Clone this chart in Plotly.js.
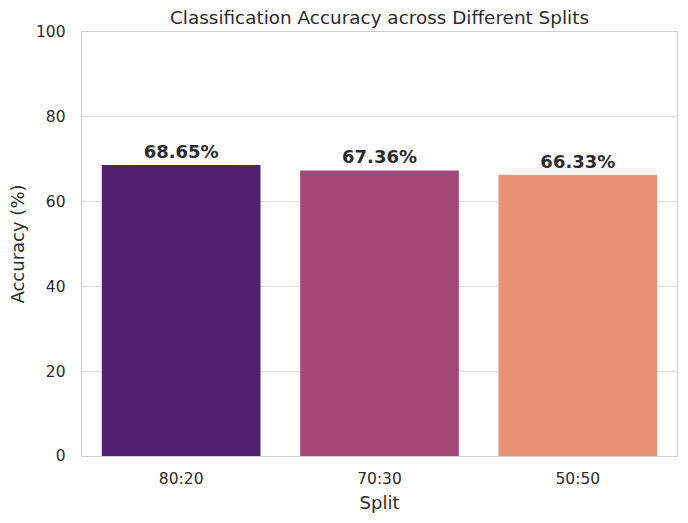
<!DOCTYPE html>
<html>
<head>
<meta charset="utf-8">
<script src="https://cdn.plot.ly/plotly-3.0.1.min.js"></script>
<style>html,body{margin:0;padding:0;background:#fff}#chart{width:688px;height:523px}</style>
</head>
<body>
<div id="chart"></div>
<script>
const splits = ["80:20", "70:30", "50:50"];
const accuracy = [68.65, 67.36, 66.33];
const barColors = ["#501f6d", "#a6477a", "#e99274"];
const yTicks = [0, 20, 40, 60, 80, 100];

const font = "DejaVu Sans, sans-serif";
const textColor = "#2b2b2b";

const trace = {
  type: "bar",
  x: splits,
  y: accuracy,
  marker: {color: barColors, line: {width: 0}},
  text: accuracy.map(v => v.toFixed(2) + "%"),
  textposition: "outside",
  textfont: {family: font, size: 18, color: textColor, weight: "bold"},
  cliponaxis: false,
  hoverinfo: "skip"
};

const layout = {
  width: 688, height: 523,
  margin: {l: 82, r: 11, t: 32, b: 67},
  paper_bgcolor: "#fff", plot_bgcolor: "#fff",
  bargap: 0.2,
  showlegend: false,
  title: {text: "Classification Accuracy across Different Splits", font: {family: font, size: 18.4, color: textColor}, x: 0.5516, xanchor: "center", y: 0.967, yanchor: "middle"},
  xaxis: {
    title: {text: "Split", font: {family: font, size: 18, color: textColor}, standoff: 9},
    tickfont: {family: font, size: 15.5, color: textColor},
    showgrid: false, showline: true, linecolor: "#cccccc", linewidth: 1.3, mirror: true,
    ticks: "", ticklen: 0, range: [-0.5, 2.5], ticklabelstandoff: 8
  },
  yaxis: {
    title: {text: "Accuracy (%)", font: {family: font, size: 18, color: textColor}, standoff: 6},
    tickfont: {family: font, size: 15.5, color: textColor},
    range: [0, 100], tickvals: yTicks, ticktext: yTicks.map(String),
    showgrid: true, gridcolor: "#dadada", gridwidth: 1.2,
    showline: true, linecolor: "#cccccc", linewidth: 1.3, mirror: true,
    zeroline: false, ticks: "", ticklabelstandoff: 12
  }
};

Plotly.newPlot("chart", [trace], layout, {displayModeBar: false, staticPlot: true});
</script>
</body>
</html>
